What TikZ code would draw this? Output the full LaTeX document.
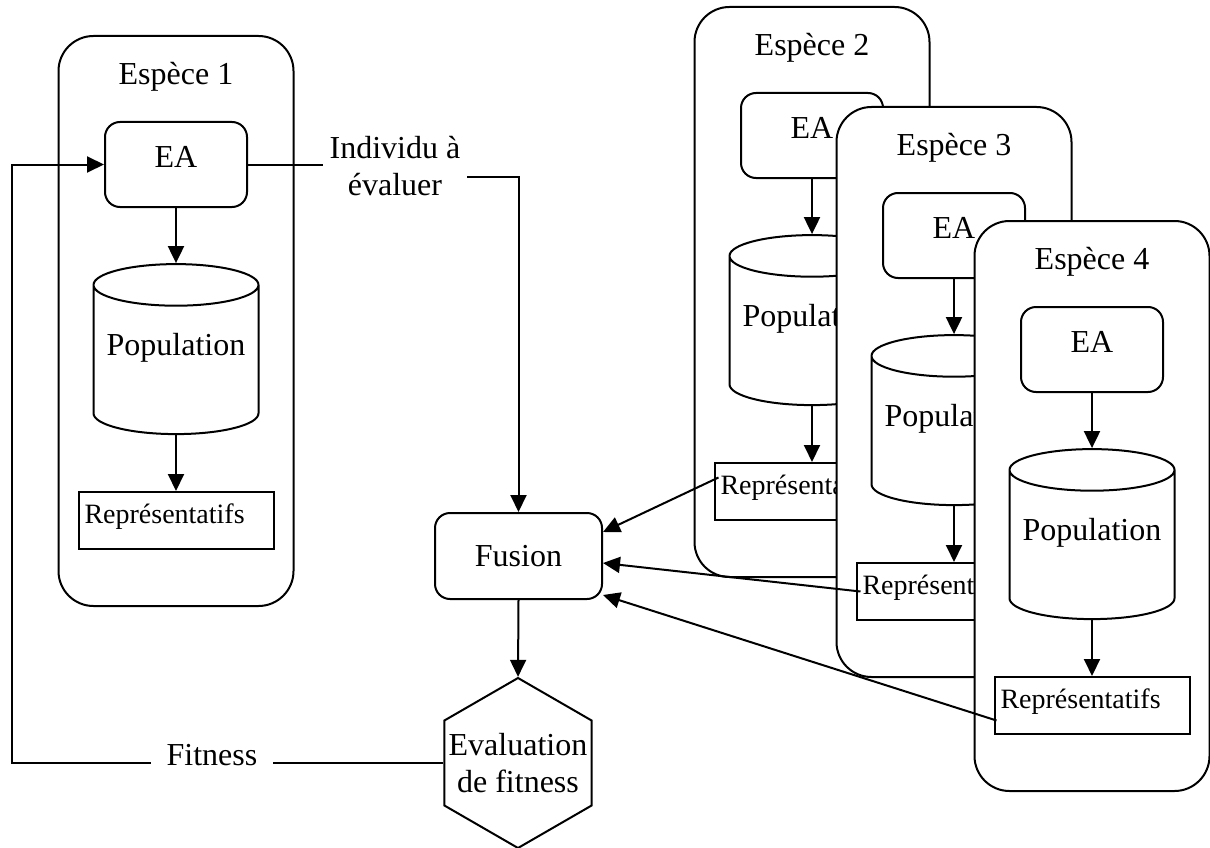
\documentclass[tikz,border=0pt]{standalone}
\usepackage{fontspec}
\setmainfont{Liberation Serif}
\usetikzlibrary{arrows.meta,positioning,shapes.geometric}

\begin{document}
\begin{tikzpicture}[
    x=1pt, y=-1pt,
    line width=2pt,
    font=\fontsize{32}{37}\selectfont,
    species/.style={draw, fill=white, rounded corners=35pt, minimum width=235pt, minimum height=570pt},
    algo/.style={draw, fill=white, rounded corners=15pt, minimum width=142pt, minimum height=85pt, text depth=16pt},
    pop/.style={cylinder, shape border rotate=90, aspect=0.3, draw, fill=white, minimum width=165pt, minimum height=170pt, inner sep=0pt, text depth=31pt},
    repr/.style={draw, fill=white, text width=183pt, align=left, inner xsep=6pt, inner ysep=0pt, text height=31pt, text depth=26pt, font=\fontsize{28}{32}\selectfont},
    merge/.style={draw, rounded corners=15pt, minimum width=167pt, minimum height=86pt},
    evalhex/.style={regular polygon, regular polygon sides=6, shape border rotate=90, draw, minimum size=170pt, inner sep=0pt},
    arrow/.style={-{Triangle[length=17pt,width=16pt]}}
]
\useasboundingbox (0,0) rectangle (1210,848);

% Espece 1
\node[species] (sp1) at (176,321) {};
\node (lbl1) at (176,77) {Espèce 1};
\node[algo] (ea1) at (176,164.5) {EA};
\node[pop] (pop1) at (176,360) {Population};
\node[repr] (rep1) at (176,520.5) {Représentatifs};
\draw[arrow] (ea1.south) -- (pop1.north);
\draw[arrow] (pop1.south) -- (rep1.north);

% Fusion and evaluation
\node[merge] (fusion) at (518.5,556) {Fusion};
\node[evalhex] (hex) at (518,763) {};
\node[align=center] (evaltxt) at (hex.center) {Evaluation\\de fitness};
\draw[arrow] (fusion.south) -- (hex.north);

% Individual to evaluate
\node[align=center, inner xsep=6pt] (indiv) at (395,166) {Individu à\\évaluer};
\draw (ea1.east) -- (ea1.east -| indiv.west);
\draw[arrow] ([shift={(0,11)}]indiv.east) -| (fusion.north);

% Fitness back to species 1
\node[inner xsep=15pt] (fitness) at (212,755) {Fitness};
\coordinate (back) at (12,763);
\draw (hex.west) -- (hex.west -| fitness.east);
\draw[arrow] (hex.west -| fitness.west) -- (back) |- (ea1.west);

% Espece 2
\node[species] (sp2) at (812,292) {};
\node (lbl2) at (812,48) {Espèce 2};
\node[algo] (ea2) at (812,135.5) {EA};
\node[pop] (pop2) at (812,331) {Population};
\node[repr] (rep2) at (812,491.5) {Représentatifs};
\draw[arrow] (ea2.south) -- (pop2.north);
\draw[arrow] (pop2.south) -- (rep2.north);

% Espece 3
\node[species] (sp3) at (954,392) {};
\node (lbl3) at (954,148) {Espèce 3};
\node[algo] (ea3) at (954,235.5) {EA};
\node[pop] (pop3) at (954,431) {Population};
\node[repr] (rep3) at (954,591.5) {Représentatifs};
\draw[arrow] (ea3.south) -- (pop3.north);
\draw[arrow] (pop3.south) -- (rep3.north);

% Espece 4
\node[species] (sp4) at (1092,506) {};
\node (lbl4) at (1092,262) {Espèce 4};
\node[algo] (ea4) at (1092,349.5) {EA};
\node[pop] (pop4) at (1092,545) {Population};
\node[repr] (rep4) at (1092,705.5) {Représentatifs};
\draw[arrow] (ea4.south) -- (pop4.north);
\draw[arrow] (pop4.south) -- (rep4.north);

% Representatives to fusion
\draw[arrow] ([shift={(5,-14)}]rep2.west) -- ([shift={(0,-24)}]fusion.east);
\draw[arrow] ([shift={(5,0)}]rep3.west) -- ([shift={(0,7)}]fusion.east);
\draw[arrow] ([shift={(3,15)}]rep4.west) -- ([shift={(0,39)}]fusion.east);

\end{tikzpicture}
\end{document}
